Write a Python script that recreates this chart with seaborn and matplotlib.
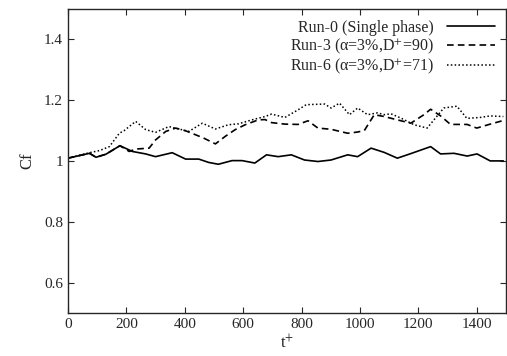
import pandas as pd
import seaborn as sns
import matplotlib.pyplot as plt

# Run-0 (single phase)
t_run0 = [0, 74, 96, 130, 178, 221, 266, 300, 357, 403, 448, 482, 515, 562, 596, 640, 680, 720, 765, 810, 856, 901, 958, 992, 1038, 1083, 1128, 1174, 1242, 1276, 1322, 1367, 1401, 1446, 1491]
cf_run0 = [1.009, 1.025, 1.012, 1.022, 1.050, 1.031, 1.023, 1.014, 1.027, 1.006, 1.006, 0.995, 0.989, 1.001, 1.001, 0.993, 1.020, 1.014, 1.020, 1.003, 0.998, 1.003, 1.020, 1.014, 1.042, 1.028, 1.009, 1.024, 1.047, 1.023, 1.025, 1.016, 1.023, 1.000, 1.000]

# Run-3 (alpha=3%, D+=90)
t_run3 = [0, 74, 96, 130, 178, 210, 232, 278, 300, 335, 369, 403, 437, 465, 505, 539, 573, 607, 652, 675, 697, 743, 788, 822, 856, 901, 958, 992, 1015, 1049, 1083, 1128, 1174, 1219, 1242, 1276, 1310, 1367, 1400, 1446, 1491]
cf_run3 = [1.009, 1.025, 1.012, 1.022, 1.050, 1.031, 1.039, 1.042, 1.069, 1.097, 1.108, 1.099, 1.086, 1.075, 1.056, 1.081, 1.103, 1.119, 1.135, 1.136, 1.126, 1.121, 1.120, 1.132, 1.108, 1.104, 1.091, 1.095, 1.100, 1.152, 1.146, 1.135, 1.124, 1.152, 1.170, 1.148, 1.120, 1.120, 1.108, 1.121, 1.133]

# Run-6 (alpha=3%, D+=71)
t_run6 = [0, 74, 108, 142, 176, 193, 232, 266, 300, 346, 380, 414, 460, 505, 550, 584, 630, 675, 697, 743, 788, 816, 879, 901, 930, 964, 992, 1026, 1060, 1083, 1106, 1140, 1185, 1230, 1287, 1332, 1366, 1412, 1446, 1491]
cf_run6 = [1.009, 1.027, 1.034, 1.047, 1.091, 1.100, 1.130, 1.103, 1.094, 1.113, 1.105, 1.097, 1.124, 1.105, 1.119, 1.122, 1.135, 1.146, 1.154, 1.143, 1.168, 1.185, 1.187, 1.174, 1.190, 1.152, 1.174, 1.152, 1.158, 1.152, 1.155, 1.141, 1.119, 1.108, 1.174, 1.180, 1.140, 1.143, 1.148, 1.146]

labels = ["Run-0 (Single phase)",
          "Run-3 (α=3%,D$^{+}$=90)",
          "Run-6 (α=3%,D$^{+}$=71)"]

sns.set_style("ticks")
plt.rcParams["font.family"] = ["Liberation Serif", "DejaVu Serif"]
plt.rcParams["mathtext.fontset"] = "stix"

fig = plt.figure(figsize=(5.07, 3.56), dpi=100)
ax = fig.add_axes([0.134, 0.121, 0.864, 0.854])

df0 = pd.DataFrame({"t": t_run0, "cf": cf_run0})
df3 = pd.DataFrame({"t": t_run3, "cf": cf_run3})
df6 = pd.DataFrame({"t": t_run6, "cf": cf_run6})

sns.lineplot(data=df0, x="t", y="cf", ax=ax, color="black", lw=1.2, linestyle="-", label=labels[0])
sns.lineplot(data=df3, x="t", y="cf", ax=ax, color="black", lw=1.2, linestyle=(0, (4, 2.5)), label=labels[1])
sns.lineplot(data=df6, x="t", y="cf", ax=ax, color="black", lw=1.1, linestyle=(0, (1, 1.5)), label=labels[2])

ax.set_xlim(0, 1500)
ax.set_ylim(0.5, 1.5)
ax.set_xticks([0, 200, 400, 600, 800, 1000, 1200, 1400])
ax.set_yticks([0.6, 0.8, 1.0, 1.2, 1.4])
ax.set_yticklabels(["0.6", "0.8", "1", "1.2", "1.4"])
ax.tick_params(direction="in", top=True, right=True, labelsize=11, length=4, width=0.8)
ax.set_xlabel(r"t$^{+}$", fontsize=12, labelpad=2)
ax.set_ylabel("Cf", fontsize=12, labelpad=6)
for s in ax.spines.values():
    s.set_linewidth(1.0)

ax.legend(loc="upper right", frameon=False, markerfirst=False, fontsize=11.5,
          handlelength=3.0, labelspacing=0.05, borderaxespad=0.3, handletextpad=0.8)

plt.savefig("out.png", dpi=100)
